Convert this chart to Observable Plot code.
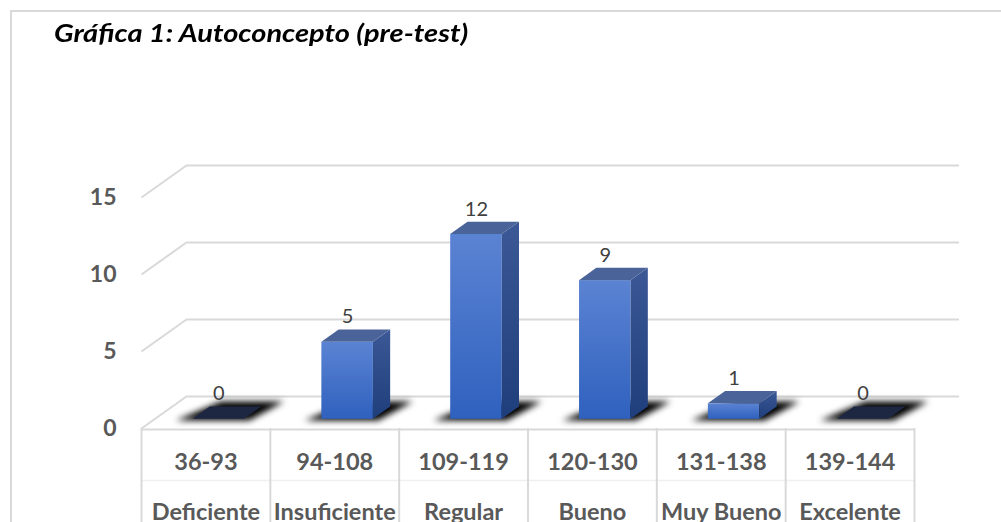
<!DOCTYPE html>
<html>
<head>
<meta charset="utf-8">
<script src="https://cdn.jsdelivr.net/npm/d3@7"></script>
<script src="https://cdn.jsdelivr.net/npm/@observablehq/plot@0.6"></script>
<style>
  body { margin: 0; background: #fff; }
  #wrap { position: relative; width: 1001px; height: 522px; overflow: hidden; background: #fff; }
  #frame { position: absolute; left: 10px; top: 10px; width: 1100px; height: 700px; border: 2px solid #d9d9d9; box-sizing: border-box; pointer-events: none; }
  #title { position: relative; height: 70px; }
  #title span { position: absolute; left: 54px; top: 20px; font-family: Lato, "Open Sans", sans-serif; font-weight: bold; font-style: italic; font-size: 25px; line-height: 1; color: #000; white-space: nowrap; transform: scaleX(1.16); transform-origin: 0 0; }
  #chart { position: relative; }
</style>
</head>
<body>
<div id="wrap">
  <div id="frame"></div>
  <div id="title"><span>Gráfica 1: Autoconcepto (pre-test)</span></div>
  <div id="chart"></div>
</div>
<script>
// ---- data ----
const ranges = ["36-93", "94-108", "109-119", "120-130", "131-138", "139-144"];
const levels = ["Deficiente", "Insuficiente", "Regular", "Bueno", "Muy Bueno", "Excelente"];
const counts = [0, 5, 12, 9, 1, 0];
const yTicks = [0, 5, 10, 15];

// ---- 3D styling constants (data units of the x index / y value scales) ----
const DEPTH_X = 0.349, DEPTH_Y = 2.08;   // full depth of the floor / back wall
const BAR_Y0 = 0.60;                     // front face base lift
const BAR_L = 0.40, BAR_R = 0.80;        // front face within category
const BDX = 0.134, BDY = 0.80;           // bar depth
const LABEL_Y = 2.24;                    // label lift above value

const rows = counts.map((v, i) => ({i, v, range: ranges[i], level: levels[i]}));

const sidePts = rows.flatMap(d => [
  {i: d.i, x: d.i + BAR_R, y1: BAR_Y0, y2: d.v + BAR_Y0},
  {i: d.i, x: d.i + BAR_R + BDX, y1: BAR_Y0 + BDY, y2: d.v + BAR_Y0 + BDY}
]);
const topPts = rows.flatMap(d => [
  {i: d.i, v: d.v, y: d.v + BAR_Y0, x1: d.i + BAR_L, x2: d.i + BAR_R},
  {i: d.i, v: d.v, y: d.v + BAR_Y0 + BDY, x1: d.i + BAR_L + BDX, x2: d.i + BAR_R + BDX}
]);
const shadowPts = rows.flatMap(d => [
  {i: d.i, y: 0.48, x1: d.i + 0.27, x2: d.i + 0.84},
  {i: d.i, y: 1.72, x1: d.i + 0.62, x2: d.i + 1.11}
]);

const FONT = "Lato, 'Open Sans', sans-serif";
const GRID = "#d9d9d9";

const chart = Plot.plot({
  width: 1001,
  height: 452,
  marginLeft: 141,
  marginRight: 87,
  marginTop: 127,
  marginBottom: 94,
  style: {fontFamily: FONT, background: "transparent", overflow: "visible"},
  x: {domain: [0, 6], label: null},
  y: {domain: [0, 15], label: null},
  marks: [
    // back wall gridlines
    Plot.ruleY(yTicks, {y: d => d + DEPTH_Y, x1: DEPTH_X, x2: 6 + DEPTH_X, stroke: GRID, strokeWidth: 2}),
    // side-wall diagonals
    Plot.link(yTicks, {x1: 0, y1: d => d, x2: DEPTH_X, y2: d => d + DEPTH_Y, stroke: GRID, strokeWidth: 2}),
    // shadows
    Plot.areaX(shadowPts, {y: "y", x1: "x1", x2: "x2", z: "i", fill: "#000", fillOpacity: 1}),
    // bars: front faces
    Plot.rect(rows, {x1: d => d.i + BAR_L, x2: d => d.i + BAR_R, y1: BAR_Y0, y2: d => d.v + BAR_Y0, fill: "url(#frontGrad)"}),
    // side faces
    Plot.areaY(sidePts, {x: "x", y1: "y1", y2: "y2", z: "i", fill: "url(#sideGrad)"}),
    // top faces
    Plot.areaX(topPts.filter(d => d.v > 0), {y: "y", x1: "x1", x2: "x2", z: "i", fill: "#4a6399"}),
    Plot.areaX(topPts.filter(d => d.v === 0), {y: "y", x1: "x1", x2: "x2", z: "i", fill: "#1e2742"}),
    // value labels
    Plot.text(rows, {x: d => d.i + 0.6, y: d => d.v + LABEL_Y, text: d => String(d.v), fontSize: 20, fill: "#404040"}),
    // y axis
    Plot.axisY({ticks: yTicks, tickSize: 0, tickPadding: 25, fontSize: 23, fontWeight: "bold", fill: "#595959"}),
    // category table
    Plot.ruleY([0], {x1: 0, x2: 6, stroke: GRID, strokeWidth: 2, dy: 1}),
    Plot.ruleY([0], {x1: 0, x2: 6, stroke: "#f0f0f0", strokeWidth: 1.5, dy: 52}),
    Plot.axisX({ticks: d3.range(7), tickSize: 94, tickFormat: () => "", stroke: GRID, strokeWidth: 2}),
    Plot.axisX({ticks: ranges.map((_, i) => i + 0.5), tickFormat: d => ranges[Math.floor(d)], tickSize: 0, tickPadding: 25, fontSize: 23.5, fontWeight: "bold", fill: "#595959"}),
    Plot.axisX({ticks: levels.map((_, i) => i + 0.5), tickFormat: d => levels[Math.floor(d)], tickSize: 0, tickPadding: 75, fontSize: 23.5, fontWeight: "bold", fill: "#595959"})
  ]
});

// gradient definitions and shadow blur
const svg = d3.select(chart);
const defs = svg.insert("defs", ":first-child");
const fg = defs.append("linearGradient").attr("id", "frontGrad").attr("x1", 0).attr("y1", 0).attr("x2", 0).attr("y2", 1);
fg.append("stop").attr("offset", "0%").attr("stop-color", "#5b83d3");
fg.append("stop").attr("offset", "100%").attr("stop-color", "#2f61be");
const sg = defs.append("linearGradient").attr("id", "sideGrad").attr("x1", 0).attr("y1", 0).attr("x2", 0).attr("y2", 1);
sg.append("stop").attr("offset", "0%").attr("stop-color", "#3c5896");
sg.append("stop").attr("offset", "100%").attr("stop-color", "#1f3e7c");
const markGroups = Array.from(chart.children).filter(n => n.tagName.toLowerCase() === "g");
if (markGroups[2]) markGroups[2].style.filter = "blur(3px)";

document.getElementById("chart").appendChild(chart);
</script>
</body>
</html>
